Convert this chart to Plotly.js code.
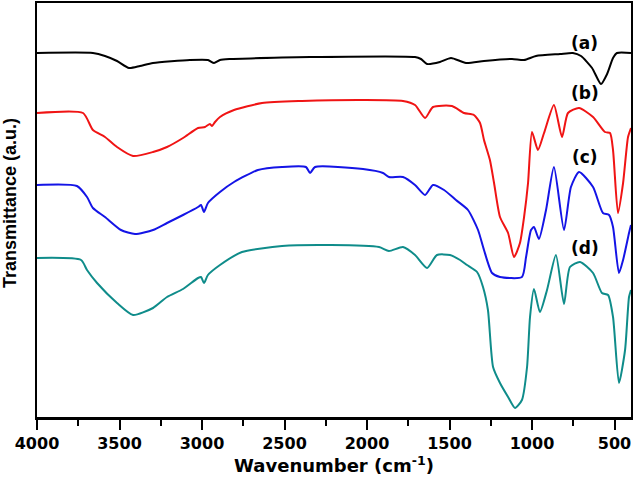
<!DOCTYPE html>
<html>
<head>
<meta charset="utf-8">
<script src="https://cdn.plot.ly/plotly-3.0.1.min.js"></script>
<style>html,body{margin:0;padding:0;background:#fff;}#chart{width:633px;height:482px;}</style>
</head>
<body>
<div id="chart"></div>
<script>
// Sample (a) – black
const wnA = [4000,3661,3588,3515,3442,3376,3297,3073,2964,2927,2891,2830,2515,2345,1709,1673,1636,1558,1491,1400,1291,1121,1048,976,830,752,703,636,582,545,509,485,400];
const tA  = [364,364,361,356,349,351,354,357,357,354,357,358,359.5,360,360,358,353,355,359,354,356,358,357,361,363,364,361,349,333,343,359,364,364];

// Sample (b) – red
const wnB = [4000,3721,3661,3588,3515,3418,3297,3212,3115,3024,2982,2952,2939,2921,2891,2806,2636,2394,2024,1782,1709,1648,1600,1485,1412,1352,1315,1291,1255,1230,1194,1145,1109,1073,1048,1024,1000,964,927,867,818,782,715,630,558,527,509,479,448,418,400];
const tB  = [304,304,287,280,270,261,265,270,279,289,290,293,291,295,300,307,314,316,317,316,312,299,310,311,304,302,294,277,257,234,200,184,160,174,200,234,285,267,284,312,280,304,309,300,285,284,267,204,234,280,289];

// Sample (c) – blue
const wnC = [4000,3758,3697,3661,3588,3491,3406,3297,3212,3115,3024,3006,2988,2964,2891,2806,2661,2515,2370,2345,2315,2024,1903,1867,1782,1709,1648,1600,1533,1461,1388,1327,1291,1242,1194,1061,1036,1006,988,958,915,867,806,764,715,630,570,533,509,473,448,412,400];
const tC  = [232,231,220,209,200,187,183,187,194,202,210,212,205,214,225,235,247,250,250,244,250,248,244,240,240,232,222,232,227,217,207,187,167,144,140,140,160,187,190,178,207,250,187,230,245,230,204,202,190,144,157,184,192];

// Sample (d) – teal
const wnD = [4000,3733,3697,3636,3515,3418,3297,3212,3115,3024,3006,2988,2964,2891,2758,2515,2218,1927,1867,1782,1709,1636,1576,1497,1436,1394,1333,1297,1267,1236,1194,1145,1103,1061,1030,1012,988,952,909,855,806,770,709,630,576,539,509,473,436,412,400];
const tD  = [159,157,147,134,114,102,109,120,128,139,140,134,142,152,165,171,172,170,166,170,162,149,162,162,157,152,145,130,107,50,34,20,9,17,50,100,128,105,127,162,113,150,155,144,124,122,100,34,67,120,127];

const labels = ['(a)','(b)','(c)','(d)'];
const labelY = [374,324,260,169];
const labelX = 679;

const xTickVals = [4000,3500,3000,2500,2000,1500,1000,500];
const xMinorVals = [3750,3250,2750,2250,1750,1250,750];

const colors = ['#000000','#f01414','#1414e6','#0f8c8a'];
const series = [[wnA,tA],[wnB,tB],[wnC,tC],[wnD,tD]];

const traces = series.map((s,i)=>({
  x: s[0], y: s[1], type:'scatter', mode:'lines',
  line:{color:colors[i], width:2, shape:'spline', smoothing:0.6},
  hoverinfo:'skip', showlegend:false
}));

const wide = {family:'"DejaVu Sans", Verdana, sans-serif', color:'#000', weight:700};
const narrow = {family:'"Liberation Sans", Arial, sans-serif', color:'#000', weight:700};

const annotations = labels.map((t,i)=>({
  x: labelX, y: labelY[i], xref:'x', yref:'y', text:t, showarrow:false,
  font:Object.assign({}, wide, {size:17})
}));
annotations.push({
  xref:'paper', yref:'paper', x:-0.0455, y:0.517, text:'Transmittance (a.u.)',
  textangle:-90, showarrow:false, xanchor:'center', yanchor:'middle',
  font:Object.assign({}, narrow, {size:18})
});

const layout = {
  width:633, height:482,
  margin:{l:37, r:2, t:3, b:65},
  paper_bgcolor:'#fff', plot_bgcolor:'#fff',
  showlegend:false,
  xaxis:{
    range:[4000,400], tickvals:xTickVals, ticktext:xTickVals.map(String),
    ticks:'outside', ticklen:10, tickwidth:2, tickcolor:'#000',
    showline:true, linewidth:2.5, linecolor:'#000', mirror:true,
    showgrid:false, zeroline:false,
    tickfont:Object.assign({}, wide, {size:16}),
    minor:{tickvals:xMinorVals, ticks:'outside', ticklen:6, tickwidth:2, tickcolor:'#000', showgrid:false},
    title:{text:'Wavenumber (cm<sup>-1</sup>)', font:Object.assign({}, wide, {size:18}), standoff:8}
  },
  yaxis:{
    range:[0,414], showticklabels:false, ticks:'',
    showline:true, linewidth:2.5, linecolor:'#000', mirror:true,
    showgrid:false, zeroline:false
  },
  annotations: annotations
};

Plotly.newPlot('chart', traces, layout, {staticPlot:true, displayModeBar:false});
</script>
</body>
</html>
